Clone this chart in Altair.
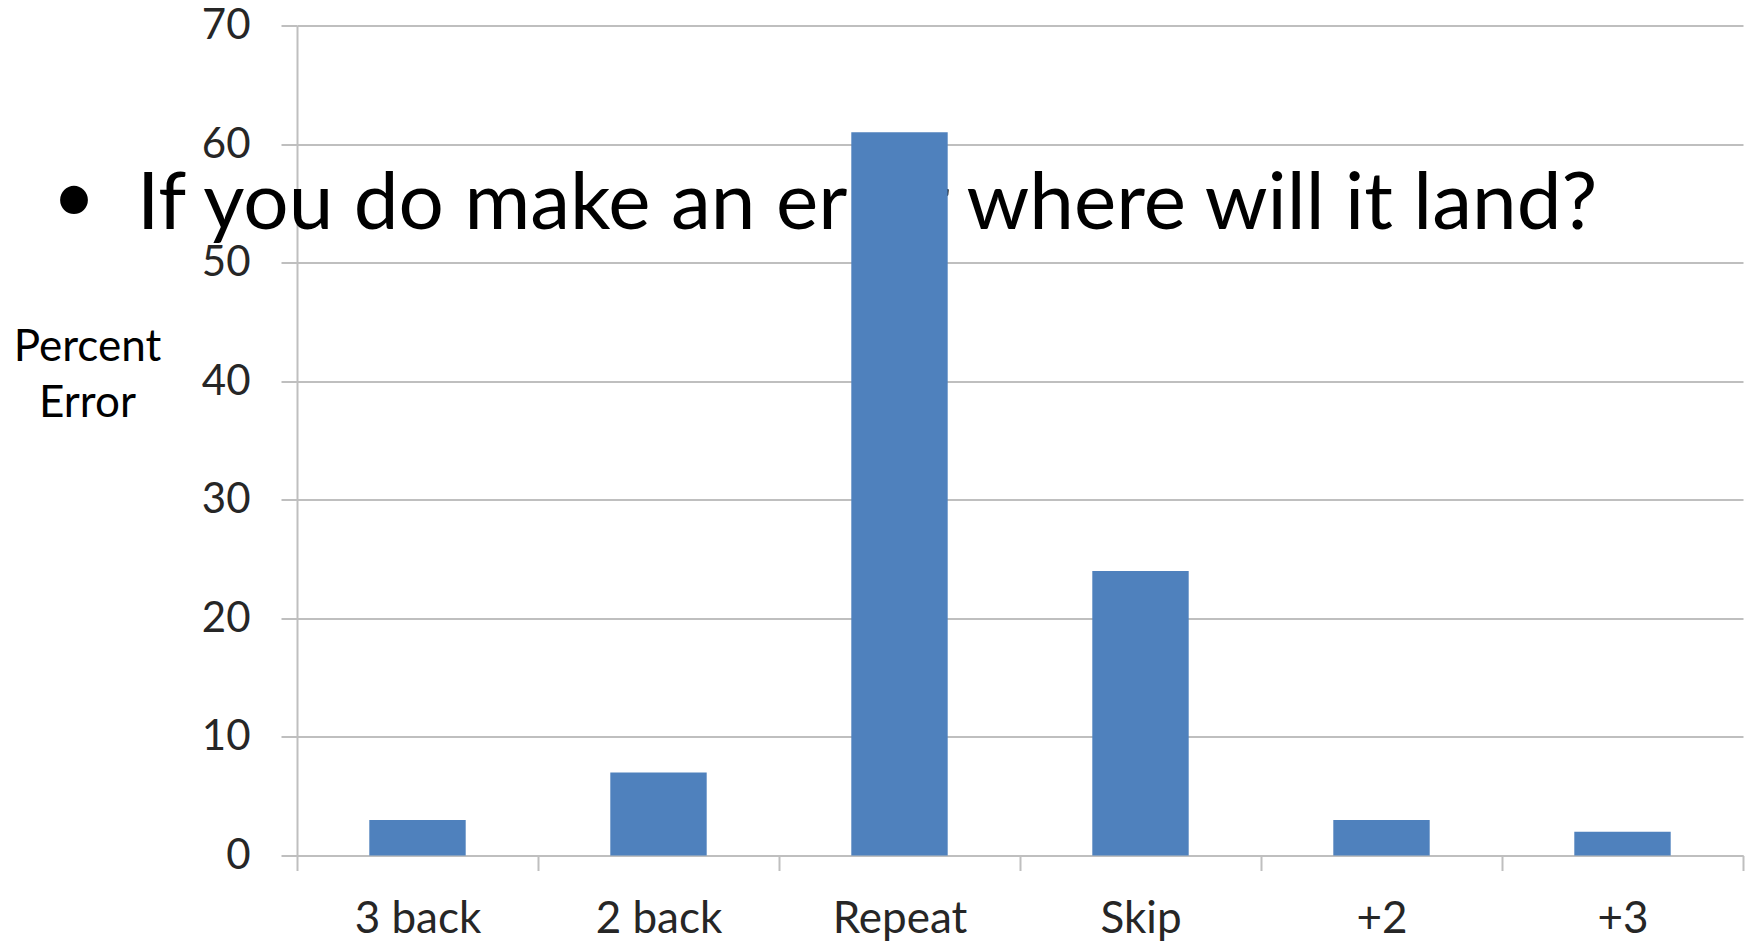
import altair as alt
import pandas as pd

# Where an error lands, as percent of all errors
categories = ["3 back", "2 back", "Repeat", "Skip", "+2", "+3"]
percent_error = [3, 7, 61, 24, 3, 2]
y_ticks = [0, 10, 20, 30, 40, 50, 60, 70]
headline = "If you do make an error where will it land?"
bullet = "•"

FONT = "Lato"
GREY = "#BFBFBF"
BAR = "#4F81BD"

PLOT_W = 1446
PLOT_H = 830
LEFT = 297
TOP = 25.5

bars_df = pd.DataFrame({"category": categories, "pct": percent_error})

x_enc = alt.X(
    "category:N",
    sort=categories,
    scale=alt.Scale(paddingInner=0, paddingOuter=0),
    axis=alt.Axis(
        title=None,
        labelAngle=0,
        labelFont=FONT,
        labelFontSize=44,
        labelColor="#262626",
        labelPadding=27,
        tickBand="extent",
        tickSize=15,
        tickColor=GREY,
        tickWidth=2,
        domainColor=GREY,
        domainWidth=2,
        grid=False,
    ),
)
y_enc = alt.Y(
    "pct:Q",
    scale=alt.Scale(domain=[0, 70], nice=False, zero=True),
    axis=alt.Axis(
        values=y_ticks,
        title=["Percent", "Error"],
        titleAngle=0,
        titleFont=FONT,
        titleFontSize=44,
        titleFontWeight="normal",
        titleColor="black",
        titleAlign="center",
        titleBaseline="alphabetic",
        titleLineHeight=56,
        titleX=-210,
        titleY=335,
        labelFont=FONT,
        labelFontSize=42,
        labelColor="#262626",
        labelPadding=31,
        labelBaseline="middle",
        tickSize=16,
        tickColor=GREY,
        tickWidth=2,
        domainColor=GREY,
        domainWidth=2,
        gridColor=GREY,
        gridWidth=2,
    ),
)

headline_layer = alt.Chart(pd.DataFrame({"t": [headline]})).mark_text(
    align="left", baseline="alphabetic", font=FONT, fontSize=80, color="black"
).encode(x=alt.value(137 - LEFT), y=alt.value(229 - TOP), text="t:N")

bullet_layer = alt.Chart(pd.DataFrame({"t": [bullet]})).mark_text(
    align="center", baseline="alphabetic", font=FONT, fontSize=75, color="black"
).encode(x=alt.value(74 - LEFT), y=alt.value(222 - TOP), text="t:N")

bars = alt.Chart(bars_df).mark_bar(
    color=BAR, width=alt.RelativeBandSize(0.4)
).encode(x=x_enc, y=y_enc)

chart = (
    alt.layer(headline_layer, bullet_layer, bars)
    .properties(
        width=PLOT_W,
        height=PLOT_H,
        autosize=alt.AutoSizeParams(type="none"),
        padding={"left": LEFT, "top": TOP, "right": 6, "bottom": 86},
        background="white",
    )
    .configure_view(stroke=None)
)

chart.save("out.html", embed_options={"renderer": "svg", "actions": False})
